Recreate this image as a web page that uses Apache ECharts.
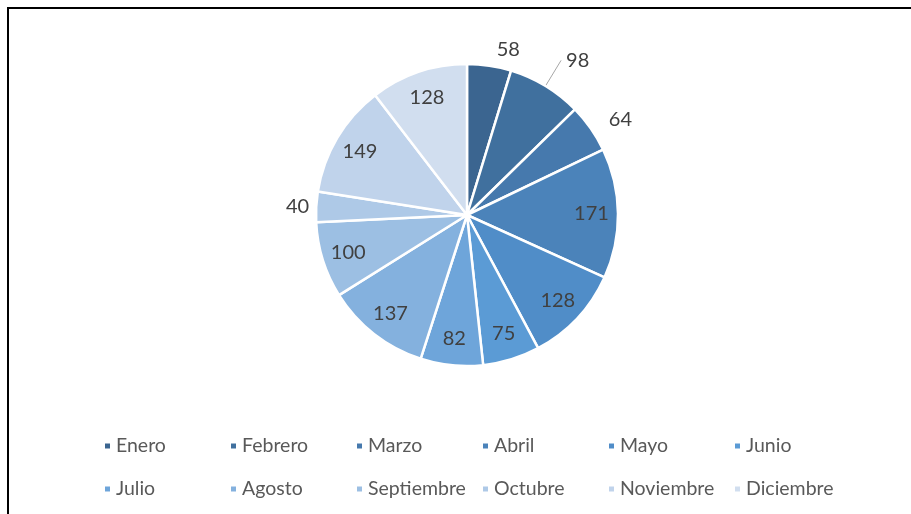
<!DOCTYPE html>
<html>
<head>
<meta charset="utf-8">
<script src="https://cdn.jsdelivr.net/npm/echarts@6/dist/echarts.min.js"></script>
<style>
  html, body { margin: 0; padding: 0; background: #fff; }
  #chart { width: 911px; height: 514px; }
</style>
</head>
<body>
<div id="chart"></div>
<script>
// meses y valores
var meses = ['Enero', 'Febrero', 'Marzo', 'Abril', 'Mayo', 'Junio',
  'Julio', 'Agosto', 'Septiembre', 'Octubre', 'Noviembre', 'Diciembre'];
var valores = [58, 98, 64, 171, 128, 75, 82, 137, 100, 40, 149, 128];
// etiquetas que van fuera del pastel
var fuera = ['Enero', 'Febrero', 'Marzo', 'Octubre'];
var colores = ['#3B6590', '#40709E', '#4679AD', '#4B83BA', '#508DC8', '#5B9BD5',
  '#6EA5DA', '#84B1DE', '#9CBFE3', '#AEC9E7', '#C0D3EB', '#D1DEEF'];

var myChart = echarts.init(document.getElementById('chart'), null, { renderer: 'canvas' });

var centro = [467, 215];
var fuente = 'Lato, "Open Sans", sans-serif';
// largo de la linea guia para las etiquetas de fuera
var largos = { Enero: 16, Febrero: 30, Marzo: 16, Octubre: 2 };

var datosPie = meses.map(function (m, i) {
  var esFuera = fuera.indexOf(m) >= 0;
  return {
    name: m,
    value: valores[i],
    itemStyle: { color: colores[i] },
    label: { show: esFuera },
    labelLine: { show: m === 'Febrero', length: largos[m] || 10, length2: 0 }
  };
});

// capa transparente solo para colocar etiquetas interiores a ~0.8r
var datosEtiquetas = meses.map(function (m, i) {
  return {
    name: m,
    value: valores[i],
    label: { show: fuera.indexOf(m) < 0 }
  };
});

var option = {
  animation: false,
  color: colores,
  graphic: [{
    type: 'rect',
    shape: { x: 8, y: 8, width: 940, height: 540 },
    style: { fill: 'none', stroke: '#000', lineWidth: 2 },
    silent: true
  }],
  legend: {
    data: meses,
    left: 98,
    top: 426,
    width: 760,
    itemWidth: 7,
    itemHeight: 7,
    itemGap: 13,
    icon: 'rect',
    textStyle: {
      color: '#595959',
      fontSize: 19.5,
      fontFamily: fuente,
      width: 100,
      lineHeight: 30,
      overflow: 'none'
    }
  },
  series: [
    {
      type: 'pie',
      center: centro,
      radius: [0, 151],
      startAngle: 90,
      clockwise: true,
      silent: true,
      avoidLabelOverlap: false,
      itemStyle: { borderColor: '#fff', borderWidth: 2.5 },
      label: {
        position: 'outside',
        color: '#404040',
        fontSize: 20,
        fontFamily: fuente,
        formatter: '{c}'
      },
      labelLine: {
        length: 14,
        length2: 0,
        lineStyle: { color: '#a6a6a6', width: 1 }
      },
      data: datosPie
    },
    {
      type: 'pie',
      center: centro,
      radius: [92, 151],
      startAngle: 90,
      clockwise: true,
      silent: true,
      legendHoverLink: false,
      avoidLabelOverlap: false,
      itemStyle: { color: 'transparent', borderWidth: 0 },
      label: {
        position: 'inside',
        color: '#404040',
        fontSize: 20,
        fontFamily: fuente,
        formatter: '{c}'
      },
      data: datosEtiquetas
    }
  ]
};

myChart.setOption(option, true);
window.addEventListener('resize', function () {
  myChart.resize();
});
</script>
</body>
</html>
